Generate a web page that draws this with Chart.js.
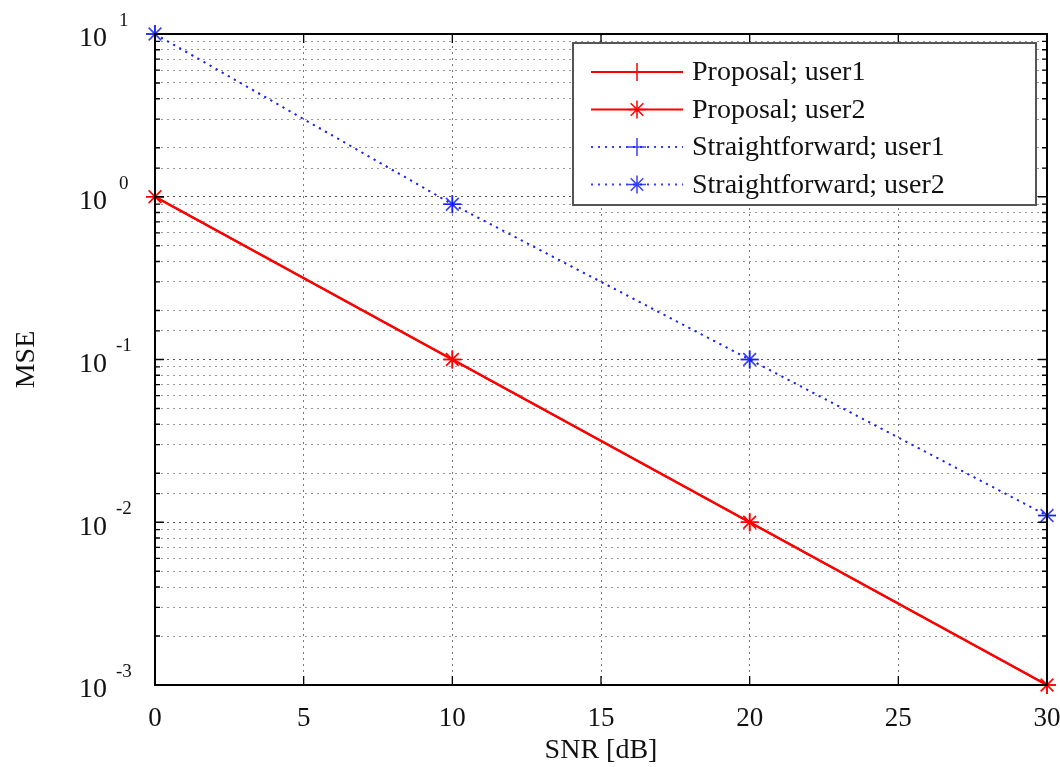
<!DOCTYPE html>
<html>
<head>
<meta charset="utf-8">
<script src="https://cdn.jsdelivr.net/npm/chart.js@4/dist/chart.umd.min.js"></script>
<style>
  html, body { margin: 0; padding: 0; background: #fff; }
  #wrap { width: 1060px; height: 767px; position: relative; }
</style>
</head>
<body>
<div id="wrap"><canvas id="mseChart"></canvas></div>
<script>
const SNR = [0, 10, 20, 30];
const proposalUser1 = [1, 0.1, 0.01, 0.001];
const proposalUser2 = [1, 0.1, 0.01, 0.001];
const straightUser1 = [10, 0.9, 0.1, 0.011];
const straightUser2 = [10, 0.9, 0.1, 0.011];
const X_TICKS = [0, 5, 10, 15, 20, 25, 30];
const Y_DECADES = [-3, -2, -1, 0, 1];

const SERIF = '"Liberation Serif", "DejaVu Serif", serif';
const RED = '#ff0000';
const BLUE = 'rgba(20, 30, 255, 0.85)';

function pts(ys) {
  return SNR.map((x, i) => ({ x: x, y: ys[i] }));
}

function isDecade(v) {
  const l = Math.log10(v);
  return Math.abs(l - Math.round(l)) < 1e-9;
}

// exponents next to the "10" tick labels + box + inner tick marks + legend
const framePlugin = {
  id: 'frame',
  afterDraw(chart) {
    const ctx = chart.ctx;
    const a = chart.chartArea;
    const xs = chart.scales.x, ys = chart.scales.y;
    ctx.save();
    ctx.strokeStyle = '#000';
    ctx.lineWidth = 1.3;
    ctx.beginPath();
    X_TICKS.forEach(v => {
      const px = xs.getPixelForValue(v);
      ctx.moveTo(px, a.bottom); ctx.lineTo(px, a.bottom - 9);
      ctx.moveTo(px, a.top); ctx.lineTo(px, a.top + 9);
    });
    ys.ticks.forEach(t => {
      const py = ys.getPixelForValue(t.value);
      const len = isDecade(t.value) ? 9 : 5;
      ctx.moveTo(a.left, py); ctx.lineTo(a.left + len, py);
      ctx.moveTo(a.right, py); ctx.lineTo(a.right - len, py);
    });
    ctx.stroke();
    ctx.lineWidth = 2;
    ctx.strokeRect(a.left, a.top, a.right - a.left, a.bottom - a.top);
    ctx.fillStyle = '#111';
    ctx.font = '19px ' + SERIF;
    ctx.textAlign = 'left';
    ctx.textBaseline = 'middle';
    Y_DECADES.forEach(e => {
      const py = ys.getPixelForValue(Math.pow(10, e));
      ctx.fillText(String(e), e < 0 ? 116 : 119, py - 13);
    });

    // legend
    const items = chart.data.datasets;
    const bw = 463, bh = 162;
    const bx = a.right - 11 - bw, by = a.top + 9;
    ctx.fillStyle = '#fff';
    ctx.fillRect(bx, by, bw, bh);
    ctx.strokeStyle = '#555';
    ctx.lineWidth = 2;
    ctx.strokeRect(bx, by, bw, bh);
    ctx.font = '28px ' + SERIF;
    items.forEach((ds, i) => {
      const ry = by + 29 + i * 37.5;
      const x0 = bx + 18, x1 = bx + 110, xm = (x0 + x1) / 2;
      ctx.strokeStyle = ds.borderColor;
      ctx.lineWidth = ds.borderWidth;
      ctx.setLineDash(ds.borderDash || []);
      ctx.beginPath();
      ctx.moveTo(x0, ry); ctx.lineTo(x1, ry);
      ctx.stroke();
      ctx.setLineDash([]);
      ctx.lineWidth = 1.5;
      ctx.beginPath();
      const r = 9;
      ctx.moveTo(xm - r, ry); ctx.lineTo(xm + r, ry);
      ctx.moveTo(xm, ry - r); ctx.lineTo(xm, ry + r);
      if (ds.pointStyle === 'star') {
        const d = r * 0.7;
        ctx.moveTo(xm - d, ry - d); ctx.lineTo(xm + d, ry + d);
        ctx.moveTo(xm - d, ry + d); ctx.lineTo(xm + d, ry - d);
      }
      ctx.stroke();
      ctx.fillStyle = '#111';
      ctx.textAlign = 'left';
      ctx.textBaseline = 'middle';
      ctx.fillText(ds.label, bx + 119, ry + 1);
    });
    ctx.restore();
  }
};

function lineSet(label, data, color, style, dashed) {
  return {
    label: label,
    data: pts(data),
    borderColor: color,
    backgroundColor: color,
    borderWidth: dashed ? 1.8 : 2,
    borderDash: dashed ? [2, 5] : [],
    pointStyle: style,
    pointRadius: 9,
    pointBorderWidth: 1.6,
    pointBorderColor: color,
    fill: false,
    tension: 0,
    clip: false
  };
}

new Chart(document.getElementById('mseChart'), {
  type: 'line',
  data: {
    datasets: [
      lineSet('Proposal; user1', proposalUser1, RED, 'cross', false),
      lineSet('Proposal; user2', proposalUser2, RED, 'star', false),
      lineSet('Straightforward; user1', straightUser1, BLUE, 'cross', true),
      lineSet('Straightforward; user2', straightUser2, BLUE, 'star', true)
    ]
  },
  options: {
    responsive: true,
    maintainAspectRatio: false,
    animation: false,
    layout: { padding: { top: 34, right: 13, left: 0, bottom: 0 } },
    plugins: { legend: { display: false }, tooltip: { enabled: false } },
    scales: {
      x: {
        type: 'linear',
        min: 0, max: 30,
        afterBuildTicks: s => { s.ticks = X_TICKS.map(v => ({ value: v })); },
        afterFit: s => { s.height = 82; s.paddingLeft = 0; s.paddingRight = 0; },
        grid: { color: '#777', lineWidth: 1, drawTicks: false },
        border: { display: false, dash: [2, 4] },
        ticks: { color: '#111', padding: 18, font: { family: SERIF, size: 27 }, maxRotation: 0 },
        title: { display: true, text: 'SNR [dB]', color: '#111', padding: 0, font: { family: SERIF, size: 28 } }
      },
      y: {
        type: 'logarithmic',
        min: 0.001, max: 10,
        afterFit: s => { s.width = 155; s.paddingTop = 0; s.paddingBottom = 0; },
        grid: {
          color: c => isDecade(c.tick.value) ? '#555' : '#999',
          lineWidth: 1,
          drawTicks: false
        },
        border: { display: false, dash: [2, 4] },
        ticks: {
          color: '#111',
          padding: 48,
          labelOffset: 5,
          autoSkip: false,
          font: { family: SERIF, size: 28 },
          callback: v => isDecade(v) ? '10' : ''
        },
        title: { display: true, text: 'MSE', color: '#111', padding: { top: 10, bottom: 0 }, font: { family: SERIF, size: 28 } }
      }
    }
  },
  plugins: [framePlugin]
});
</script>
</body>
</html>
